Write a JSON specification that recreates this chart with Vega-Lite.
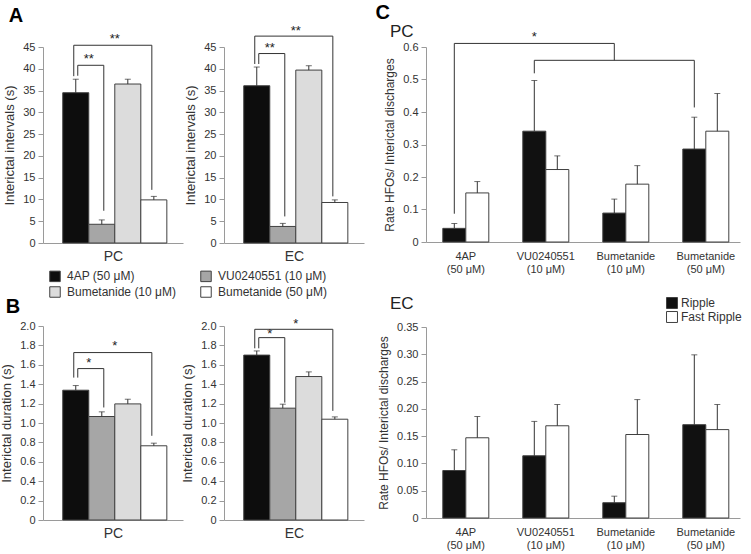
{
  "$schema": "https://vega.github.io/schema/vega-lite/v6.json",
  "padding": {"left": 0, "top": 3, "right": 5, "bottom": 5},
  "background": "white",
  "config": {
    "font": "Liberation Sans",
    "view": {"stroke": null},
    "axis": {"domainColor": "#9a9a9a", "tickColor": "#9a9a9a", "tickSize": 5, "labelPadding": 3, "labelColor": "#333", "labelFontSize": 11, "labelOverlap": false, "titleColor": "#333", "titleFontSize": 13, "titleFontWeight": "normal", "titlePadding": 6, "grid": false, "labelFont": "Liberation Sans", "titleFont": "Liberation Sans"},
    "title": {"font": "Liberation Sans", "fontSize": 20, "fontWeight": "bold", "color": "#000", "anchor": "start"},
    "legend": {"labelFont": "Liberation Sans"}
  },
  "datasets": {
    "intervals": [
      {"region": "PC", "treatment": "4AP (50 μM)", "mean": 34.5, "upper": 37.6},
      {"region": "PC", "treatment": "VU0240551 (10 μM)", "mean": 4.3, "upper": 5.3},
      {"region": "PC", "treatment": "Bumetanide (10 μM)", "mean": 36.5, "upper": 37.6},
      {"region": "PC", "treatment": "Bumetanide (50 μM)", "mean": 9.9, "upper": 10.7},
      {"region": "EC", "treatment": "4AP (50 μM)", "mean": 36.1, "upper": 40.4},
      {"region": "EC", "treatment": "VU0240551 (10 μM)", "mean": 3.8, "upper": 4.5},
      {"region": "EC", "treatment": "Bumetanide (10 μM)", "mean": 39.7, "upper": 40.7},
      {"region": "EC", "treatment": "Bumetanide (50 μM)", "mean": 9.3, "upper": 9.9}
    ],
    "duration": [
      {"region": "PC", "treatment": "4AP (50 μM)", "mean": 1.338, "upper": 1.386},
      {"region": "PC", "treatment": "VU0240551 (10 μM)", "mean": 1.067, "upper": 1.115},
      {"region": "PC", "treatment": "Bumetanide (10 μM)", "mean": 1.197, "upper": 1.245},
      {"region": "PC", "treatment": "Bumetanide (50 μM)", "mean": 0.765, "upper": 0.792},
      {"region": "EC", "treatment": "4AP (50 μM)", "mean": 1.7, "upper": 1.743},
      {"region": "EC", "treatment": "VU0240551 (10 μM)", "mean": 1.153, "upper": 1.194},
      {"region": "EC", "treatment": "Bumetanide (10 μM)", "mean": 1.479, "upper": 1.527},
      {"region": "EC", "treatment": "Bumetanide (50 μM)", "mean": 1.039, "upper": 1.063}
    ],
    "intervalBrackets": [
      {"region": "PC", "bracket": "inner", "step": 1, "treatment": "4AP (50 μM)", "value": 38.4},
      {"region": "PC", "bracket": "inner", "step": 2, "treatment": "4AP (50 μM)", "value": 40.8},
      {"region": "PC", "bracket": "inner", "step": 3, "treatment": "VU0240551 (10 μM)", "value": 40.8},
      {"region": "PC", "bracket": "inner", "step": 4, "treatment": "VU0240551 (10 μM)", "value": 7.4},
      {"region": "PC", "bracket": "outer", "step": 1, "treatment": "4AP (50 μM)", "value": 38.3},
      {"region": "PC", "bracket": "outer", "step": 2, "treatment": "4AP (50 μM)", "value": 45.4},
      {"region": "PC", "bracket": "outer", "step": 3, "treatment": "Bumetanide (50 μM)", "value": 45.4},
      {"region": "PC", "bracket": "outer", "step": 4, "treatment": "Bumetanide (50 μM)", "value": 12.2},
      {"region": "EC", "bracket": "inner", "step": 1, "treatment": "4AP (50 μM)", "value": 41.1},
      {"region": "EC", "bracket": "inner", "step": 2, "treatment": "4AP (50 μM)", "value": 43.5},
      {"region": "EC", "bracket": "inner", "step": 3, "treatment": "VU0240551 (10 μM)", "value": 43.5},
      {"region": "EC", "bracket": "inner", "step": 4, "treatment": "VU0240551 (10 μM)", "value": 6.1},
      {"region": "EC", "bracket": "outer", "step": 1, "treatment": "4AP (50 μM)", "value": 41.1},
      {"region": "EC", "bracket": "outer", "step": 2, "treatment": "4AP (50 μM)", "value": 47.5},
      {"region": "EC", "bracket": "outer", "step": 3, "treatment": "Bumetanide (50 μM)", "value": 47.5},
      {"region": "EC", "bracket": "outer", "step": 4, "treatment": "Bumetanide (50 μM)", "value": 10.7}
    ],
    "intervalStars": [
      {"region": "PC", "treatment": "4AP (50 μM)", "value": 42.3, "label": "**"},
      {"region": "PC", "treatment": "VU0240551 (10 μM)", "value": 46.8, "label": "**"},
      {"region": "EC", "treatment": "4AP (50 μM)", "value": 44.7, "label": "**"},
      {"region": "EC", "treatment": "VU0240551 (10 μM)", "value": 48.6, "label": "**"}
    ],
    "durationBrackets": [
      {"region": "PC", "bracket": "inner", "step": 1, "treatment": "4AP (50 μM)", "value": 1.468},
      {"region": "PC", "bracket": "inner", "step": 2, "treatment": "4AP (50 μM)", "value": 1.561},
      {"region": "PC", "bracket": "inner", "step": 3, "treatment": "VU0240551 (10 μM)", "value": 1.561},
      {"region": "PC", "bracket": "inner", "step": 4, "treatment": "VU0240551 (10 μM)", "value": 1.16},
      {"region": "PC", "bracket": "outer", "step": 1, "treatment": "4AP (50 μM)", "value": 1.468},
      {"region": "PC", "bracket": "outer", "step": 2, "treatment": "4AP (50 μM)", "value": 1.726},
      {"region": "PC", "bracket": "outer", "step": 3, "treatment": "Bumetanide (50 μM)", "value": 1.726},
      {"region": "PC", "bracket": "outer", "step": 4, "treatment": "Bumetanide (50 μM)", "value": 0.868},
      {"region": "EC", "bracket": "inner", "step": 1, "treatment": "4AP (50 μM)", "value": 1.77},
      {"region": "EC", "bracket": "inner", "step": 2, "treatment": "4AP (50 μM)", "value": 1.88},
      {"region": "EC", "bracket": "inner", "step": 3, "treatment": "VU0240551 (10 μM)", "value": 1.88},
      {"region": "EC", "bracket": "inner", "step": 4, "treatment": "VU0240551 (10 μM)", "value": 1.21},
      {"region": "EC", "bracket": "outer", "step": 1, "treatment": "4AP (50 μM)", "value": 1.77},
      {"region": "EC", "bracket": "outer", "step": 2, "treatment": "4AP (50 μM)", "value": 1.966},
      {"region": "EC", "bracket": "outer", "step": 3, "treatment": "Bumetanide (50 μM)", "value": 1.966},
      {"region": "EC", "bracket": "outer", "step": 4, "treatment": "Bumetanide (50 μM)", "value": 1.125}
    ],
    "durationStars": [
      {"region": "PC", "treatment": "4AP (50 μM)", "value": 1.62, "label": "*"},
      {"region": "PC", "treatment": "VU0240551 (10 μM)", "value": 1.79, "label": "*"},
      {"region": "EC", "treatment": "4AP (50 μM)", "value": 1.914, "label": "*"},
      {"region": "EC", "treatment": "VU0240551 (10 μM)", "value": 2.02, "label": "*"}
    ],
    "hfo": [
      {"region": "PC", "treatment": "4AP (50 μM)", "type": "Ripple", "mean": 0.042, "upper": 0.057},
      {"region": "PC", "treatment": "4AP (50 μM)", "type": "Fast Ripple", "mean": 0.151, "upper": 0.186},
      {"region": "PC", "treatment": "VU0240551 (10 μM)", "type": "Ripple", "mean": 0.341, "upper": 0.497},
      {"region": "PC", "treatment": "VU0240551 (10 μM)", "type": "Fast Ripple", "mean": 0.223, "upper": 0.265},
      {"region": "PC", "treatment": "Bumetanide (10 μM)", "type": "Ripple", "mean": 0.089, "upper": 0.132},
      {"region": "PC", "treatment": "Bumetanide (10 μM)", "type": "Fast Ripple", "mean": 0.178, "upper": 0.235},
      {"region": "PC", "treatment": "Bumetanide (50 μM)", "type": "Ripple", "mean": 0.286, "upper": 0.384},
      {"region": "PC", "treatment": "Bumetanide (50 μM)", "type": "Fast Ripple", "mean": 0.341, "upper": 0.457},
      {"region": "EC", "treatment": "4AP (50 μM)", "type": "Ripple", "mean": 0.087, "upper": 0.125},
      {"region": "EC", "treatment": "4AP (50 μM)", "type": "Fast Ripple", "mean": 0.147, "upper": 0.186},
      {"region": "EC", "treatment": "VU0240551 (10 μM)", "type": "Ripple", "mean": 0.114, "upper": 0.177},
      {"region": "EC", "treatment": "VU0240551 (10 μM)", "type": "Fast Ripple", "mean": 0.169, "upper": 0.208},
      {"region": "EC", "treatment": "Bumetanide (10 μM)", "type": "Ripple", "mean": 0.028, "upper": 0.04},
      {"region": "EC", "treatment": "Bumetanide (10 μM)", "type": "Fast Ripple", "mean": 0.153, "upper": 0.217},
      {"region": "EC", "treatment": "Bumetanide (50 μM)", "type": "Ripple", "mean": 0.171, "upper": 0.299},
      {"region": "EC", "treatment": "Bumetanide (50 μM)", "type": "Fast Ripple", "mean": 0.162, "upper": 0.208}
    ],
    "hfoBrackets": [
      {"bracket": "a", "step": 1, "treatment": "4AP (50 μM)", "value": 0.087},
      {"bracket": "a", "step": 2, "treatment": "4AP (50 μM)", "value": 0.611},
      {"bracket": "a", "step": 3, "treatment": "Bumetanide (10 μM)", "value": 0.611},
      {"bracket": "a", "step": 4, "treatment": "Bumetanide (10 μM)", "value": 0.559},
      {"bracket": "b", "step": 1, "treatment": "VU0240551 (10 μM)", "value": 0.519},
      {"bracket": "b", "step": 2, "treatment": "VU0240551 (10 μM)", "value": 0.559},
      {"bracket": "b", "step": 3, "treatment": "Bumetanide (50 μM)", "value": 0.559},
      {"bracket": "b", "step": 4, "treatment": "Bumetanide (50 μM)", "value": 0.414}
    ],
    "hfoStars": [
      {"treatment": "VU0240551 (10 μM)", "value": 0.63, "label": "*"}
    ]
  },
  "resolve": {"scale": {"fill": "independent"}, "legend": {"fill": "independent"}},
  "spacing": 11,
  "hconcat": [
    {
      "spacing": 34,
      "vconcat": [
        {
          "title": {"text": "A", "anchor": "start", "frame": "bounds", "dx": 5, "offset": -1},
          "bounds": "flush",
          "spacing": 41,
          "hconcat": [
            {
              "width": 140, "height": 196,
              "encoding": {"x": {"field": "treatment", "type": "nominal", "scale": {"domain": ["4AP (50 μM)", "VU0240551 (10 μM)", "Bumetanide (10 μM)", "Bumetanide (50 μM)"], "paddingInner": 0, "paddingOuter": 0.69, "align": 0.55}, "axis": {"title": "PC", "labels": false, "ticks": false, "titlePadding": 6, "titleFontSize": 14}}},
              "layer": [
                {"data": {"name": "intervals"}, "transform": [{"filter": "datum.region === 'PC'"}], "mark": {"type": "bar", "stroke": "#404040", "strokeWidth": 1},
                 "encoding": {"y": {"field": "mean", "type": "quantitative", "title": "Interictal intervals (s)", "scale": {"domain": [0, 45]}, "axis": {"values": [0, 5, 10, 15, 20, 25, 30, 35, 40, 45]}},
                   "fill": {"field": "treatment", "type": "nominal", "scale": {"domain": ["4AP (50 μM)", "Bumetanide (10 μM)", "VU0240551 (10 μM)", "Bumetanide (50 μM)"], "range": ["#0d0d0d", "#dcdcdc", "#a6a6a6", "#ffffff"]},
                     "legend": {"title": null, "orient": "none", "legendX": 6, "legendY": 223, "columns": 2, "columnPadding": 22, "rowPadding": 0, "symbolType": "square", "symbolSize": 110, "symbolStrokeColor": "#444", "symbolStrokeWidth": 1, "labelFontSize": 12, "labelColor": "#333", "labelOffset": 6, "padding": 0}}}},
                {"data": {"name": "intervals"}, "transform": [{"filter": "datum.region === 'PC'"}], "mark": {"type": "rule", "color": "#333"},
                 "encoding": {"y": {"field": "mean", "type": "quantitative", "title": "Interictal intervals (s)", "scale": {"domain": [0, 45]}, "axis": {"values": [0, 5, 10, 15, 20, 25, 30, 35, 40, 45]}}, "y2": {"field": "upper"}}},
                {"data": {"name": "intervals"}, "transform": [{"filter": "datum.region === 'PC'"}], "mark": {"type": "tick", "color": "#333", "size": 6, "thickness": 1},
                 "encoding": {"y": {"field": "upper", "type": "quantitative", "title": "Interictal intervals (s)", "scale": {"domain": [0, 45]}, "axis": {"values": [0, 5, 10, 15, 20, 25, 30, 35, 40, 45]}}}},
                {"data": {"name": "intervalBrackets"}, "transform": [{"filter": "datum.region === 'PC' && datum.bracket === 'inner'"}], "mark": {"type": "line", "color": "#333", "strokeWidth": 1, "xOffset": 2},
                 "encoding": {"y": {"field": "value", "type": "quantitative", "title": "Interictal intervals (s)", "scale": {"domain": [0, 45]}, "axis": {"values": [0, 5, 10, 15, 20, 25, 30, 35, 40, 45]}}, "order": {"field": "step", "type": "quantitative"}}},
                {"data": {"name": "intervalBrackets"}, "transform": [{"filter": "datum.region === 'PC' && datum.bracket === 'outer'"}], "mark": {"type": "line", "color": "#333", "strokeWidth": 1, "xOffset": -2},
                 "encoding": {"y": {"field": "value", "type": "quantitative", "title": "Interictal intervals (s)", "scale": {"domain": [0, 45]}, "axis": {"values": [0, 5, 10, 15, 20, 25, 30, 35, 40, 45]}}, "order": {"field": "step", "type": "quantitative"}}},
                {"data": {"name": "intervalStars"}, "transform": [{"filter": "datum.region === 'PC'"}], "mark": {"type": "text", "dx": 13, "fontSize": 13, "baseline": "middle", "color": "#222"},
                 "encoding": {"y": {"field": "value", "type": "quantitative", "title": "Interictal intervals (s)", "scale": {"domain": [0, 45]}, "axis": {"values": [0, 5, 10, 15, 20, 25, 30, 35, 40, 45]}}, "text": {"field": "label"}}}
              ]
            },
            {
              "width": 140, "height": 196,
              "encoding": {"x": {"field": "treatment", "type": "nominal", "scale": {"domain": ["4AP (50 μM)", "VU0240551 (10 μM)", "Bumetanide (10 μM)", "Bumetanide (50 μM)"], "paddingInner": 0, "paddingOuter": 0.69, "align": 0.55}, "axis": {"title": "EC", "labels": false, "ticks": false, "titlePadding": 6, "titleFontSize": 14}}},
              "layer": [
                {"data": {"name": "intervals"}, "transform": [{"filter": "datum.region === 'EC'"}], "mark": {"type": "bar", "stroke": "#404040", "strokeWidth": 1},
                 "encoding": {"y": {"field": "mean", "type": "quantitative", "title": "Interictal intervals (s)", "scale": {"domain": [0, 45]}, "axis": {"values": [0, 5, 10, 15, 20, 25, 30, 35, 40, 45]}},
                   "fill": {"field": "treatment", "type": "nominal", "scale": {"domain": ["4AP (50 μM)", "Bumetanide (10 μM)", "VU0240551 (10 μM)", "Bumetanide (50 μM)"], "range": ["#0d0d0d", "#dcdcdc", "#a6a6a6", "#ffffff"]}}}},
                {"data": {"name": "intervals"}, "transform": [{"filter": "datum.region === 'EC'"}], "mark": {"type": "rule", "color": "#333"},
                 "encoding": {"y": {"field": "mean", "type": "quantitative", "title": "Interictal intervals (s)", "scale": {"domain": [0, 45]}, "axis": {"values": [0, 5, 10, 15, 20, 25, 30, 35, 40, 45]}}, "y2": {"field": "upper"}}},
                {"data": {"name": "intervals"}, "transform": [{"filter": "datum.region === 'EC'"}], "mark": {"type": "tick", "color": "#333", "size": 6, "thickness": 1},
                 "encoding": {"y": {"field": "upper", "type": "quantitative", "title": "Interictal intervals (s)", "scale": {"domain": [0, 45]}, "axis": {"values": [0, 5, 10, 15, 20, 25, 30, 35, 40, 45]}}}},
                {"data": {"name": "intervalBrackets"}, "transform": [{"filter": "datum.region === 'EC' && datum.bracket === 'inner'"}], "mark": {"type": "line", "color": "#333", "strokeWidth": 1, "xOffset": 2},
                 "encoding": {"y": {"field": "value", "type": "quantitative", "title": "Interictal intervals (s)", "scale": {"domain": [0, 45]}, "axis": {"values": [0, 5, 10, 15, 20, 25, 30, 35, 40, 45]}}, "order": {"field": "step", "type": "quantitative"}}},
                {"data": {"name": "intervalBrackets"}, "transform": [{"filter": "datum.region === 'EC' && datum.bracket === 'outer'"}], "mark": {"type": "line", "color": "#333", "strokeWidth": 1, "xOffset": -2},
                 "encoding": {"y": {"field": "value", "type": "quantitative", "title": "Interictal intervals (s)", "scale": {"domain": [0, 45]}, "axis": {"values": [0, 5, 10, 15, 20, 25, 30, 35, 40, 45]}}, "order": {"field": "step", "type": "quantitative"}}},
                {"data": {"name": "intervalStars"}, "transform": [{"filter": "datum.region === 'EC'"}], "mark": {"type": "text", "dx": 13, "fontSize": 13, "baseline": "middle", "color": "#222"},
                 "encoding": {"y": {"field": "value", "type": "quantitative", "title": "Interictal intervals (s)", "scale": {"domain": [0, 45]}, "axis": {"values": [0, 5, 10, 15, 20, 25, 30, 35, 40, 45]}}, "text": {"field": "label"}}}
              ]
            }
          ]
        },
        {
          "title": {"text": "B", "anchor": "start", "frame": "bounds", "dx": 5, "offset": 1},
          "bounds": "flush",
          "spacing": 41,
          "hconcat": [
            {
              "width": 140, "height": 194,
              "encoding": {"x": {"field": "treatment", "type": "nominal", "scale": {"domain": ["4AP (50 μM)", "VU0240551 (10 μM)", "Bumetanide (10 μM)", "Bumetanide (50 μM)"], "paddingInner": 0, "paddingOuter": 0.69, "align": 0.55}, "axis": {"title": "PC", "labels": false, "ticks": false, "titlePadding": 6, "titleFontSize": 14}}},
              "layer": [
                {"data": {"name": "duration"}, "transform": [{"filter": "datum.region === 'PC'"}], "mark": {"type": "bar", "stroke": "#404040", "strokeWidth": 1},
                 "encoding": {"y": {"field": "mean", "type": "quantitative", "title": "Interictal duration (s)", "scale": {"domain": [0, 2]}, "axis": {"values": [0, 0.2, 0.4, 0.6, 0.8, 1.0, 1.2, 1.4, 1.6, 1.8, 2.0], "labelExpr": "datum.value === 0 ? '0' : format(datum.value, '.1f')"}},
                   "fill": {"field": "treatment", "type": "nominal", "scale": {"domain": ["4AP (50 μM)", "Bumetanide (10 μM)", "VU0240551 (10 μM)", "Bumetanide (50 μM)"], "range": ["#0d0d0d", "#dcdcdc", "#a6a6a6", "#ffffff"]}}}},
                {"data": {"name": "duration"}, "transform": [{"filter": "datum.region === 'PC'"}], "mark": {"type": "rule", "color": "#333"},
                 "encoding": {"y": {"field": "mean", "type": "quantitative", "title": "Interictal duration (s)", "scale": {"domain": [0, 2]}, "axis": {"values": [0, 0.2, 0.4, 0.6, 0.8, 1.0, 1.2, 1.4, 1.6, 1.8, 2.0], "labelExpr": "datum.value === 0 ? '0' : format(datum.value, '.1f')"}}, "y2": {"field": "upper"}}},
                {"data": {"name": "duration"}, "transform": [{"filter": "datum.region === 'PC'"}], "mark": {"type": "tick", "color": "#333", "size": 6, "thickness": 1},
                 "encoding": {"y": {"field": "upper", "type": "quantitative", "title": "Interictal duration (s)", "scale": {"domain": [0, 2]}, "axis": {"values": [0, 0.2, 0.4, 0.6, 0.8, 1.0, 1.2, 1.4, 1.6, 1.8, 2.0], "labelExpr": "datum.value === 0 ? '0' : format(datum.value, '.1f')"}}}},
                {"data": {"name": "durationBrackets"}, "transform": [{"filter": "datum.region === 'PC' && datum.bracket === 'inner'"}], "mark": {"type": "line", "color": "#333", "strokeWidth": 1, "xOffset": 2},
                 "encoding": {"y": {"field": "value", "type": "quantitative", "title": "Interictal duration (s)", "scale": {"domain": [0, 2]}, "axis": {"values": [0, 0.2, 0.4, 0.6, 0.8, 1.0, 1.2, 1.4, 1.6, 1.8, 2.0], "labelExpr": "datum.value === 0 ? '0' : format(datum.value, '.1f')"}}, "order": {"field": "step", "type": "quantitative"}}},
                {"data": {"name": "durationBrackets"}, "transform": [{"filter": "datum.region === 'PC' && datum.bracket === 'outer'"}], "mark": {"type": "line", "color": "#333", "strokeWidth": 1, "xOffset": -2},
                 "encoding": {"y": {"field": "value", "type": "quantitative", "title": "Interictal duration (s)", "scale": {"domain": [0, 2]}, "axis": {"values": [0, 0.2, 0.4, 0.6, 0.8, 1.0, 1.2, 1.4, 1.6, 1.8, 2.0], "labelExpr": "datum.value === 0 ? '0' : format(datum.value, '.1f')"}}, "order": {"field": "step", "type": "quantitative"}}},
                {"data": {"name": "durationStars"}, "transform": [{"filter": "datum.region === 'PC'"}], "mark": {"type": "text", "dx": 13, "fontSize": 13, "baseline": "middle", "color": "#222"},
                 "encoding": {"y": {"field": "value", "type": "quantitative", "title": "Interictal duration (s)", "scale": {"domain": [0, 2]}, "axis": {"values": [0, 0.2, 0.4, 0.6, 0.8, 1.0, 1.2, 1.4, 1.6, 1.8, 2.0], "labelExpr": "datum.value === 0 ? '0' : format(datum.value, '.1f')"}}, "text": {"field": "label"}}}
              ]
            },
            {
              "width": 140, "height": 194,
              "encoding": {"x": {"field": "treatment", "type": "nominal", "scale": {"domain": ["4AP (50 μM)", "VU0240551 (10 μM)", "Bumetanide (10 μM)", "Bumetanide (50 μM)"], "paddingInner": 0, "paddingOuter": 0.69, "align": 0.55}, "axis": {"title": "EC", "labels": false, "ticks": false, "titlePadding": 6, "titleFontSize": 14}}},
              "layer": [
                {"data": {"name": "duration"}, "transform": [{"filter": "datum.region === 'EC'"}], "mark": {"type": "bar", "stroke": "#404040", "strokeWidth": 1},
                 "encoding": {"y": {"field": "mean", "type": "quantitative", "title": "Interictal duration (s)", "scale": {"domain": [0, 2]}, "axis": {"values": [0, 0.2, 0.4, 0.6, 0.8, 1.0, 1.2, 1.4, 1.6, 1.8, 2.0], "labelExpr": "datum.value === 0 ? '0' : format(datum.value, '.1f')"}},
                   "fill": {"field": "treatment", "type": "nominal", "scale": {"domain": ["4AP (50 μM)", "Bumetanide (10 μM)", "VU0240551 (10 μM)", "Bumetanide (50 μM)"], "range": ["#0d0d0d", "#dcdcdc", "#a6a6a6", "#ffffff"]}}}},
                {"data": {"name": "duration"}, "transform": [{"filter": "datum.region === 'EC'"}], "mark": {"type": "rule", "color": "#333"},
                 "encoding": {"y": {"field": "mean", "type": "quantitative", "title": "Interictal duration (s)", "scale": {"domain": [0, 2]}, "axis": {"values": [0, 0.2, 0.4, 0.6, 0.8, 1.0, 1.2, 1.4, 1.6, 1.8, 2.0], "labelExpr": "datum.value === 0 ? '0' : format(datum.value, '.1f')"}}, "y2": {"field": "upper"}}},
                {"data": {"name": "duration"}, "transform": [{"filter": "datum.region === 'EC'"}], "mark": {"type": "tick", "color": "#333", "size": 6, "thickness": 1},
                 "encoding": {"y": {"field": "upper", "type": "quantitative", "title": "Interictal duration (s)", "scale": {"domain": [0, 2]}, "axis": {"values": [0, 0.2, 0.4, 0.6, 0.8, 1.0, 1.2, 1.4, 1.6, 1.8, 2.0], "labelExpr": "datum.value === 0 ? '0' : format(datum.value, '.1f')"}}}},
                {"data": {"name": "durationBrackets"}, "transform": [{"filter": "datum.region === 'EC' && datum.bracket === 'inner'"}], "mark": {"type": "line", "color": "#333", "strokeWidth": 1, "xOffset": 2},
                 "encoding": {"y": {"field": "value", "type": "quantitative", "title": "Interictal duration (s)", "scale": {"domain": [0, 2]}, "axis": {"values": [0, 0.2, 0.4, 0.6, 0.8, 1.0, 1.2, 1.4, 1.6, 1.8, 2.0], "labelExpr": "datum.value === 0 ? '0' : format(datum.value, '.1f')"}}, "order": {"field": "step", "type": "quantitative"}}},
                {"data": {"name": "durationBrackets"}, "transform": [{"filter": "datum.region === 'EC' && datum.bracket === 'outer'"}], "mark": {"type": "line", "color": "#333", "strokeWidth": 1, "xOffset": -2},
                 "encoding": {"y": {"field": "value", "type": "quantitative", "title": "Interictal duration (s)", "scale": {"domain": [0, 2]}, "axis": {"values": [0, 0.2, 0.4, 0.6, 0.8, 1.0, 1.2, 1.4, 1.6, 1.8, 2.0], "labelExpr": "datum.value === 0 ? '0' : format(datum.value, '.1f')"}}, "order": {"field": "step", "type": "quantitative"}}},
                {"data": {"name": "durationStars"}, "transform": [{"filter": "datum.region === 'EC'"}], "mark": {"type": "text", "dx": 13, "fontSize": 13, "baseline": "middle", "color": "#222"},
                 "encoding": {"y": {"field": "value", "type": "quantitative", "title": "Interictal duration (s)", "scale": {"domain": [0, 2]}, "axis": {"values": [0, 0.2, 0.4, 0.6, 0.8, 1.0, 1.2, 1.4, 1.6, 1.8, 2.0], "labelExpr": "datum.value === 0 ? '0' : format(datum.value, '.1f')"}}, "text": {"field": "label"}}}
              ]
            }
          ]
        }
      ]
    },
    {
      "title": {"text": "C", "anchor": "start", "frame": "bounds", "dx": -2, "offset": 0},
      "spacing": 21,
      "vconcat": [
        {
          "width": 314, "height": 195,
          "title": {"text": "PC", "anchor": "start", "frame": "group", "dx": -36, "offset": -10, "fontSize": 17, "fontWeight": "normal", "color": "#222"},
          "encoding": {"x": {"field": "treatment", "type": "nominal", "scale": {"domain": ["4AP (50 μM)", "VU0240551 (10 μM)", "Bumetanide (10 μM)", "Bumetanide (50 μM)"], "paddingInner": 0.425, "paddingOuter": 0.175, "align": 0.6}, "axis": {"title": null, "ticks": false, "labelAngle": 0, "labelPadding": 8, "labelLineHeight": 13, "labelExpr": "[substring(datum.label, 0, indexof(datum.label, ' (')), substring(datum.label, indexof(datum.label, ' (') + 1)]"}}},
          "layer": [
            {"data": {"name": "hfo"}, "transform": [{"filter": "datum.region === 'PC'"}], "mark": {"type": "bar", "stroke": "#404040", "strokeWidth": 1},
             "encoding": {"xOffset": {"field": "type", "type": "nominal", "scale": {"domain": ["Ripple", "Fast Ripple"], "paddingInner": 0, "paddingOuter": 0}},
               "y": {"field": "mean", "type": "quantitative", "title": "Rate HFOs/ Interictal discharges", "scale": {"domain": [0, 0.6]}, "axis": {"values": [0, 0.1, 0.2, 0.3, 0.4, 0.5, 0.6], "labelExpr": "datum.value === 0 ? '0' : format(datum.value, '.1f')", "titleFontSize": 12}},
               "fill": {"field": "type", "type": "nominal", "scale": {"domain": ["Ripple", "Fast Ripple"], "range": ["#111111", "#ffffff"]},
                 "legend": {"title": null, "orient": "none", "legendX": 240, "legendY": 250, "rowPadding": -2, "symbolType": "square", "symbolSize": 120, "symbolStrokeColor": "#444", "symbolStrokeWidth": 1, "labelFontSize": 12, "labelColor": "#333", "labelOffset": 3, "padding": 0}}}},
            {"data": {"name": "hfo"}, "transform": [{"filter": "datum.region === 'PC'"}], "mark": {"type": "rule", "color": "#333"},
             "encoding": {"xOffset": {"field": "type", "type": "nominal", "scale": {"domain": ["Ripple", "Fast Ripple"], "paddingInner": 0, "paddingOuter": 0}},
               "y": {"field": "mean", "type": "quantitative", "title": "Rate HFOs/ Interictal discharges", "scale": {"domain": [0, 0.6]}, "axis": {"values": [0, 0.1, 0.2, 0.3, 0.4, 0.5, 0.6], "labelExpr": "datum.value === 0 ? '0' : format(datum.value, '.1f')", "titleFontSize": 12}}, "y2": {"field": "upper"}}},
            {"data": {"name": "hfo"}, "transform": [{"filter": "datum.region === 'PC'"}], "mark": {"type": "tick", "color": "#333", "size": 6, "thickness": 1},
             "encoding": {"xOffset": {"field": "type", "type": "nominal", "scale": {"domain": ["Ripple", "Fast Ripple"], "paddingInner": 0, "paddingOuter": 0}},
               "y": {"field": "upper", "type": "quantitative", "title": "Rate HFOs/ Interictal discharges", "scale": {"domain": [0, 0.6]}, "axis": {"values": [0, 0.1, 0.2, 0.3, 0.4, 0.5, 0.6], "labelExpr": "datum.value === 0 ? '0' : format(datum.value, '.1f')", "titleFontSize": 12}}}},
            {"data": {"name": "hfoBrackets"}, "mark": {"type": "line", "color": "#333", "strokeWidth": 1, "xOffset": -11.5},
             "encoding": {"y": {"field": "value", "type": "quantitative", "title": "Rate HFOs/ Interictal discharges", "scale": {"domain": [0, 0.6]}, "axis": {"values": [0, 0.1, 0.2, 0.3, 0.4, 0.5, 0.6], "labelExpr": "datum.value === 0 ? '0' : format(datum.value, '.1f')", "titleFontSize": 12}},
               "detail": {"field": "bracket"}, "order": {"field": "step", "type": "quantitative"}}},
            {"data": {"name": "hfoStars"}, "mark": {"type": "text", "fontSize": 13, "baseline": "middle", "color": "#222", "dx": -11.5},
             "encoding": {"y": {"field": "value", "type": "quantitative", "title": "Rate HFOs/ Interictal discharges", "scale": {"domain": [0, 0.6]}, "axis": {"values": [0, 0.1, 0.2, 0.3, 0.4, 0.5, 0.6], "labelExpr": "datum.value === 0 ? '0' : format(datum.value, '.1f')", "titleFontSize": 12}}, "text": {"field": "label"}}}
          ]
        },
        {
          "width": 314, "height": 191,
          "title": {"text": "EC", "anchor": "start", "frame": "group", "dx": -36, "offset": 8, "fontSize": 17, "fontWeight": "normal", "color": "#222"},
          "encoding": {"x": {"field": "treatment", "type": "nominal", "scale": {"domain": ["4AP (50 μM)", "VU0240551 (10 μM)", "Bumetanide (10 μM)", "Bumetanide (50 μM)"], "paddingInner": 0.425, "paddingOuter": 0.175, "align": 0.6}, "axis": {"title": null, "ticks": false, "labelAngle": 0, "labelPadding": 8, "labelLineHeight": 13, "labelExpr": "[substring(datum.label, 0, indexof(datum.label, ' (')), substring(datum.label, indexof(datum.label, ' (') + 1)]"}}},
          "layer": [
            {"data": {"name": "hfo"}, "transform": [{"filter": "datum.region === 'EC'"}], "mark": {"type": "bar", "stroke": "#404040", "strokeWidth": 1},
             "encoding": {"xOffset": {"field": "type", "type": "nominal", "scale": {"domain": ["Ripple", "Fast Ripple"], "paddingInner": 0, "paddingOuter": 0}},
               "y": {"field": "mean", "type": "quantitative", "title": "Rate HFOs/ Interictal discharges", "scale": {"domain": [0, 0.35]}, "axis": {"values": [0, 0.05, 0.1, 0.15, 0.2, 0.25, 0.3, 0.35], "labelExpr": "datum.value === 0 ? '0' : format(datum.value, '.2f')", "titleFontSize": 12}},
               "fill": {"field": "type", "type": "nominal", "scale": {"domain": ["Ripple", "Fast Ripple"], "range": ["#111111", "#ffffff"]}}}},
            {"data": {"name": "hfo"}, "transform": [{"filter": "datum.region === 'EC'"}], "mark": {"type": "rule", "color": "#333"},
             "encoding": {"xOffset": {"field": "type", "type": "nominal", "scale": {"domain": ["Ripple", "Fast Ripple"], "paddingInner": 0, "paddingOuter": 0}},
               "y": {"field": "mean", "type": "quantitative", "title": "Rate HFOs/ Interictal discharges", "scale": {"domain": [0, 0.35]}, "axis": {"values": [0, 0.05, 0.1, 0.15, 0.2, 0.25, 0.3, 0.35], "labelExpr": "datum.value === 0 ? '0' : format(datum.value, '.2f')", "titleFontSize": 12}}, "y2": {"field": "upper"}}},
            {"data": {"name": "hfo"}, "transform": [{"filter": "datum.region === 'EC'"}], "mark": {"type": "tick", "color": "#333", "size": 6, "thickness": 1},
             "encoding": {"xOffset": {"field": "type", "type": "nominal", "scale": {"domain": ["Ripple", "Fast Ripple"], "paddingInner": 0, "paddingOuter": 0}},
               "y": {"field": "upper", "type": "quantitative", "title": "Rate HFOs/ Interictal discharges", "scale": {"domain": [0, 0.35]}, "axis": {"values": [0, 0.05, 0.1, 0.15, 0.2, 0.25, 0.3, 0.35], "labelExpr": "datum.value === 0 ? '0' : format(datum.value, '.2f')", "titleFontSize": 12}}}}
          ]
        }
      ]
    }
  ]
}
